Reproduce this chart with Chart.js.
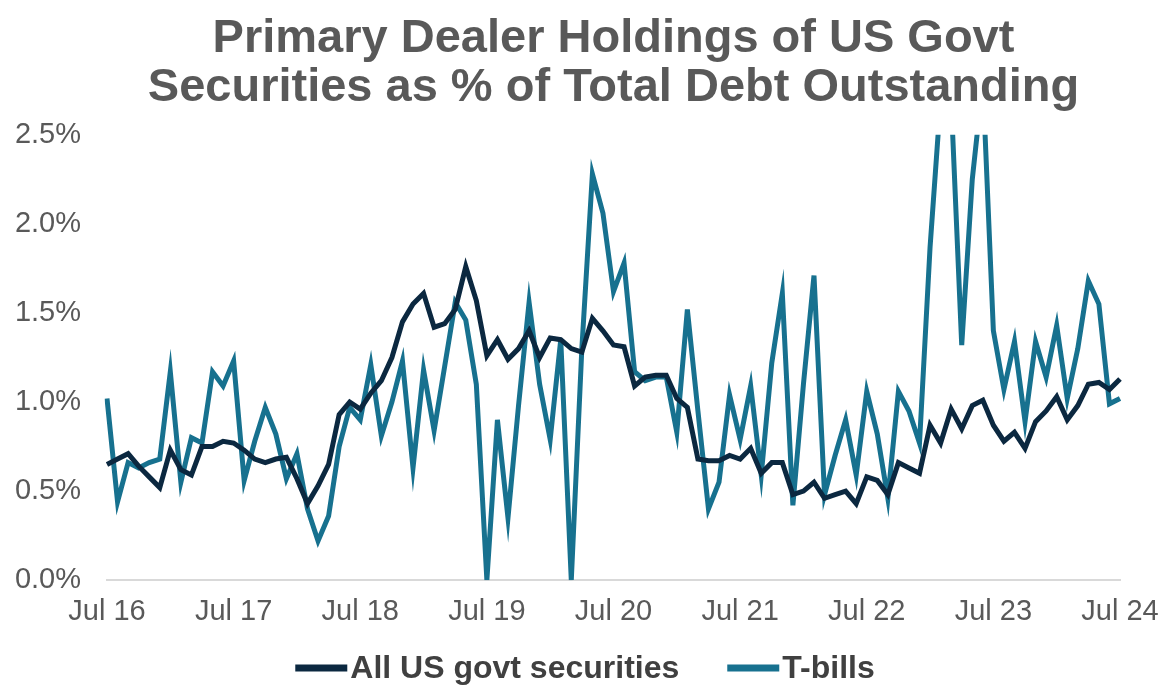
<!DOCTYPE html>
<html lang="en">
<head>
    <meta charset="UTF-8">
    <title>Primary Dealer Holdings</title>
    <script src="https://cdn.jsdelivr.net/npm/chart.js"></script>
    <style>
        body { margin: 0; background: #fff; }
        .wrap { width: 1158px; height: 687px; }
    </style>
</head>
<body>
    <div class="wrap"><canvas id="chart" width="1158" height="687"></canvas></div>
    <script>
        // monthly, Jul 2016 .. Jul 2024 (97 points)
        const tickLabels = ['Jul 16', 'Jul 17', 'Jul 18', 'Jul 19', 'Jul 20', 'Jul 21', 'Jul 22', 'Jul 23', 'Jul 24'];
        const monthNames = ['Jul', 'Aug', 'Sep', 'Oct', 'Nov', 'Dec', 'Jan', 'Feb', 'Mar', 'Apr', 'May', 'Jun'];

        const allGovt = [
            0.65, 0.68, 0.71, 0.64, 0.58, 0.52, 0.73, 0.62, 0.59, 0.75, 0.75, 0.78,
            0.77, 0.73, 0.68, 0.66, 0.68, 0.69, 0.57, 0.43, 0.53, 0.65, 0.93, 1.00,
            0.96, 1.05, 1.12, 1.25, 1.45, 1.55, 1.61, 1.42, 1.44, 1.52, 1.76, 1.57,
            1.26, 1.35, 1.24, 1.30, 1.40, 1.25, 1.36, 1.35, 1.30, 1.28, 1.47, 1.40,
            1.32, 1.31, 1.09, 1.14, 1.15, 1.15, 1.02, 0.97, 0.68, 0.67, 0.67, 0.70,
            0.68, 0.74, 0.60, 0.66, 0.66, 0.48, 0.50, 0.55, 0.46, 0.48, 0.50, 0.43,
            0.58, 0.56, 0.48, 0.66, 0.63, 0.60, 0.87, 0.77, 0.96, 0.85, 0.98, 1.01,
            0.87, 0.78, 0.83, 0.74, 0.89, 0.95, 1.03, 0.90, 0.98, 1.10, 1.11, 1.07,
            1.13
        ];
        const tBills = [
            1.02, 0.44, 0.66, 0.63, 0.66, 0.68, 1.17, 0.55, 0.80, 0.77, 1.17, 1.09,
            1.23, 0.56, 0.78, 0.97, 0.82, 0.57, 0.71, 0.40, 0.22, 0.36, 0.75, 0.97,
            0.90, 1.21, 0.81, 1.00, 1.23, 0.63, 1.18, 0.84, 1.20, 1.56, 1.46, 1.10,
            0.00, 0.90, 0.35, 0.98, 1.56, 1.10, 0.79, 1.35, 0.00, 1.30, 2.28, 2.06,
            1.62, 1.78, 1.17, 1.12, 1.14, 1.14, 0.83, 1.52, 0.95, 0.40, 0.55, 1.04,
            0.79, 1.09, 0.59, 1.22, 1.61, 0.42, 1.10, 1.71, 0.48, 0.70, 0.90, 0.59,
            1.06, 0.82, 0.46, 1.06, 0.95, 0.77, 1.87, 2.70, 2.70, 1.32, 2.25, 2.80,
            1.40, 1.07, 1.34, 0.89, 1.34, 1.14, 1.43, 1.02, 1.30, 1.68, 1.55, 0.99,
            1.02
        ];

        const categories = [];
        for (let i = 0; i < allGovt.length; i++) {
            const yr = 16 + Math.floor((i + 6) / 12);
            categories.push(monthNames[i % 12] + ' ' + yr);
        }

        const darkColor = '#0b2840';
        const tealColor = '#17718f';
        const greyText = '#595959';
        const fontFamily = "'Liberation Sans', Arial, sans-serif";

        // legend drawn below the axis, line swatch + bold text
        const bottomLegend = {
            id: 'bottomLegend',
            afterDraw(chart) {
                const ctx = chart.ctx;
                const items = chart.data.datasets.map(d => ({ text: d.label, color: d.borderColor }));
                const swatch = 52, gap = 3, between = 48;
                ctx.save();
                ctx.font = 'bold 32px ' + fontFamily;
                let total = 0;
                items.forEach((it, i) => {
                    it.w = ctx.measureText(it.text).width;
                    total += swatch + gap + it.w + (i ? between : 0);
                });
                let x = chart.width / 2 + 6 - total / 2;
                const y = 668;
                ctx.textBaseline = 'middle';
                items.forEach(it => {
                    ctx.fillStyle = it.color;
                    ctx.fillRect(x, y - 3.5, swatch, 7);
                    x += swatch + gap;
                    ctx.fillStyle = '#404040';
                    ctx.fillText(it.text, x, y + 1);
                    x += it.w + between;
                });
                ctx.restore();
            }
        };

        new Chart(document.getElementById('chart'), {
            type: 'line',
            data: {
                labels: categories,
                datasets: [
                    {
                        label: 'All US govt securities',
                        data: allGovt,
                        borderColor: darkColor,
                        backgroundColor: darkColor,
                        borderWidth: 5,
                        pointRadius: 0,
                        tension: 0
                    },
                    {
                        label: 'T-bills',
                        data: tBills,
                        borderColor: tealColor,
                        backgroundColor: tealColor,
                        borderWidth: 5,
                        pointRadius: 0,
                        tension: 0
                    }
                ]
            },
            options: {
                responsive: false,
                animation: false,
                layout: { padding: { left: 0, right: 0, bottom: 44 } },
                plugins: {
                    legend: { display: false },
                    tooltip: { enabled: false },
                    title: {
                        display: true,
                        fullSize: false,
                        text: ['Primary Dealer Holdings of US Govt', 'Securities as % of Total Debt Outstanding'],
                        color: greyText,
                        font: { family: fontFamily, size: 47, weight: 'bold', lineHeight: 1.03 },
                        padding: { top: 15, bottom: 23 }
                    }
                },
                scales: {
                    x: {
                        grid: { display: false, drawTicks: false },
                        border: { color: '#d9d9d9', width: 2 },
                        afterFit: s => { s.paddingRight = 38; },
                        ticks: {
                            autoSkip: false,
                            maxRotation: 0,
                            padding: 14,
                            color: greyText,
                            font: { family: fontFamily, size: 29 },
                            callback: function (value, index) {
                                return index % 12 === 0 ? tickLabels[index / 12] : '';
                            }
                        }
                    },
                    y: {
                        min: 0,
                        max: 2.5,
                        grid: { display: false, drawTicks: false },
                        border: { display: false },
                        afterFit: s => { s.width = 107; },
                        ticks: {
                            stepSize: 0.5,
                            padding: 26,
                            color: greyText,
                            font: { family: fontFamily, size: 29 },
                            callback: v => v.toFixed(1) + '%'
                        }
                    }
                }
            },
            plugins: [bottomLegend]
        });
    </script>
</body>
</html>
